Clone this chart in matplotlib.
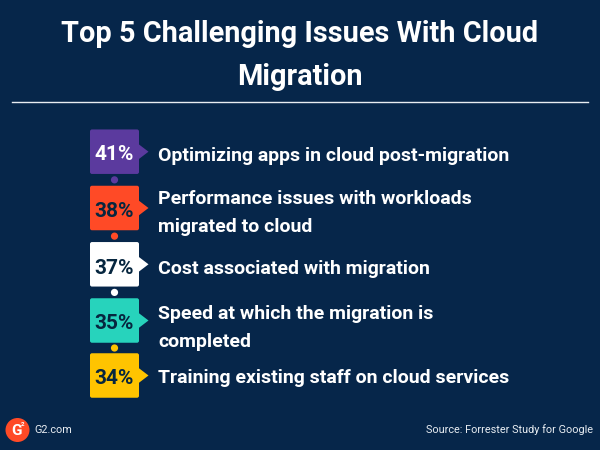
import matplotlib
matplotlib.use("Agg")
import matplotlib.pyplot as plt
from matplotlib.patches import FancyBboxPatch, Polygon, Circle

title_lines = ["Top 5 Challenging Issues With Cloud", "Migration"]
values = [41, 38, 37, 35, 34]
labels = [
    ["Optimizing apps in cloud post-migration"],
    ["Performance issues with workloads", "migrated to cloud"],
    ["Cost associated with migration"],
    ["Speed at which the migration is", "completed"],
    ["Training existing staff on cloud services"],
]
colors = ["#5b3a9e", "#ff4a26", "#ffffff", "#27d3bc", "#ffc400"]
dot_colors = ["#5b3a9e", "#ff4a26", "#ffffff", "#ffc400"]
value_colors = ["#ffffff", "#06263f", "#06263f", "#06263f", "#06263f"]
source = "Source: Forrester Study for Google"
brand = "G2.com"

BG = "#06264a"
FONT = "Roboto"
plt.rcParams["font.family"] = [FONT, "DejaVu Sans"]

fig = plt.figure(figsize=(6, 4.5), dpi=100, facecolor=BG)
ax = fig.add_axes([0, 0, 1, 1])
ax.set_xlim(0, 600)
ax.set_ylim(450, 0)
ax.axis("off")

ax.text(299.5, 34, title_lines[0], ha="center", va="center", color="white",
        fontsize=20.8, fontweight="bold")
ax.text(299.5, 77, title_lines[1], ha="center", va="center", color="white",
        fontsize=20.8, fontweight="bold")
ax.plot([12, 588], [102, 102], color="#e8edf2", lw=1)

centers = [151.7, 208, 264.3, 320.5, 375.5]
value_y = [154, 211.5, 268, 323.5, 379]
label_y = [[156], [199, 227], [269], [314, 342], [378]]
bx, bw, bh = 90, 49, 44.5
for i, (v, lab, c, vc, cy) in enumerate(zip(values, labels, colors, value_colors, centers)):
    ax.add_patch(FancyBboxPatch((bx + 2, cy - bh / 2 + 2), bw - 4, bh - 4,
                                boxstyle="round,pad=2,rounding_size=2",
                                fc=c, ec="none", zorder=3))
    ax.add_patch(Polygon([(bx + bw - 1, cy - 8), (bx + bw + 9.5, cy), (bx + bw - 1, cy + 8)],
                         closed=True, fc=c, ec="none", zorder=3))
    ax.text(bx + bw / 2 - 0.5, value_y[i], f"{v}%", ha="center", va="center", color=vc,
            fontsize=15, fontweight="bold", zorder=4)
    if i < 4:
        dy = (cy + bh / 2 + centers[i + 1] - bh / 2) / 2
        ax.add_patch(Circle((114.5, dy), 3.6, fc=dot_colors[i], ec="none", zorder=4))
    for line, y in zip(lab, label_y[i]):
        ax.text(158, y, line, ha="left", va="center", color="white",
                fontsize=14, fontweight="bold")

ax.add_patch(Circle((17.5, 430), 12, fc="#ff4a26", ec="none"))
ax.text(17, 431, "G", ha="center", va="center", color="white", fontsize=11, fontweight="bold")
ax.text(22.5, 424.5, "2", ha="center", va="center", color="white", fontsize=4.5, fontweight="bold")
ax.text(34, 430, brand, ha="left", va="center", color="#e8edf2", fontsize=7.8)
ax.text(593, 430, source, ha="right", va="center", color="#e8edf2", fontsize=7.8)

fig.savefig("out.png", dpi=100, facecolor=BG)
